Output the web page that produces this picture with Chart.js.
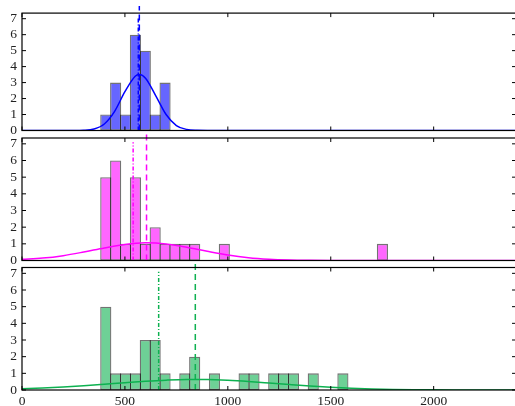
<!DOCTYPE html>
<html>
  <head>
    <title>Histograms</title>
    <meta charset="utf-8" />
    <style>
      html, body { margin: 0; padding: 0; background: #fff; overflow: hidden; }
      #wrap { position: relative; width: 515px; height: 406px; overflow: hidden; }
      #wrap canvas { position: absolute; left: 0; top: 0; }
    </style>
  </head>
  <body>
    <div id="wrap">
      <canvas id="c1" width="516" height="406"></canvas>
      <canvas id="c2" width="516" height="406"></canvas>
      <canvas id="c3" width="516" height="406"></canvas>
    </div>

    <script src="https://cdn.jsdelivr.net/npm/chart.js"></script>
    <script>
      // histogram bins shared by all three panels
      var binStart = 383;
      var binWidth = 48;

      var blueCounts = [1, 3, 1, 6, 5, 1, 3];
      var magentaCounts = [5, 6, 1, 5, 1, 2, 1, 1, 1, 1, 0, 0, 1, 0, 0, 0, 0, 0, 0, 0, 0, 0, 0, 0, 0, 0, 0, 0, 1];
      var greenCounts = [5, 1, 1, 1, 3, 3, 1, 0, 1, 2, 0, 1, 0, 0, 1, 1, 0, 1, 1, 1, 0, 1, 0, 0, 1];

      // fitted curves
      var blueCurveX = [0, 250, 300, 350, 400, 450, 500, 550, 570, 600, 650, 700, 750, 800, 850, 900, 2400];
      var blueCurveY = [0, 0.003, 0.015, 0.095, 0.41, 1.2, 2.43, 3.4, 3.5, 3.27, 2.17, 1.0, 0.31, 0.07, 0.01, 0, 0];
      var magentaCurveX = [0, 100, 200, 300, 400, 500, 600, 700, 800, 900, 1000, 1100, 1200, 1300, 1400, 1500, 1600, 2400];
      var magentaCurveY = [0.07, 0.143, 0.29, 0.51, 0.755, 0.966, 1.06, 0.996, 0.8, 0.555, 0.33, 0.167, 0.073, 0.027, 0.009, 0.002, 0, 0];
      var greenCurveX = [0, 100, 200, 300, 400, 500, 600, 700, 800, 900, 1000, 1100, 1200, 1300, 1400, 1500, 1600, 1700, 1800, 1900, 2000, 2100, 2200, 2400];
      var greenCurveY = [0.07, 0.114, 0.175, 0.253, 0.344, 0.439, 0.526, 0.592, 0.627, 0.623, 0.581, 0.51, 0.42, 0.325, 0.236, 0.162, 0.104, 0.062, 0.035, 0.019, 0.009, 0.004, 0.002, 0];

      // vertical markers: dashed and dash-dot
      var blueDashed = 570, blueDashDot = 565;
      var magentaDashed = 605, magentaDashDot = 540;
      var greenDashed = 842, greenDashDot = 664;

      var xTicks = [0, 500, 1000, 1500, 2000];
      var yTicks = [0, 1, 2, 3, 4, 5, 6, 7];
      var xMax = 2400;
      var yMax = 7.35;

      var FONT = { family: "'Liberation Serif', 'DejaVu Serif', serif", size: 13.5 };

      var framePlugin = {
        id: "frame",
        afterDatasetsDraw: function (chart) {
          var a = chart.chartArea;
          var ctx = chart.ctx;
          var xs = chart.scales.x;
          var ys = chart.scales.y;
          ctx.save();
          ctx.strokeStyle = "#000";
          ctx.lineWidth = 1;
          ctx.beginPath();
          yTicks.forEach(function (v) {
            var p = ys.getPixelForValue(v);
            ctx.moveTo(a.left, p);
            ctx.lineTo(a.left + 4, p);
            ctx.moveTo(a.right - 4, p);
            ctx.lineTo(a.right, p);
          });
          xTicks.forEach(function (v) {
            var p = xs.getPixelForValue(v);
            ctx.moveTo(p, a.top);
            ctx.lineTo(p, a.top + 4);
            ctx.moveTo(p, a.bottom);
            ctx.lineTo(p, a.bottom - 4);
          });
          ctx.stroke();
          ctx.lineWidth = 1.2;
          ctx.strokeRect(a.left, a.top, a.right - a.left, a.bottom - a.top);
          ctx.restore();
        },
      };

      function toBars(counts) {
        return counts.map(function (c, i) {
          return { x: binStart + (i + 0.5) * binWidth, y: c > 0 ? c : null };
        });
      }

      function toPoints(xs, ys) {
        return xs.map(function (x, i) {
          return { x: x, y: ys[i] };
        });
      }

      function makePanel(id, counts, curveX, curveY, dashed, dashDot, color, fill, padTop, padBottom, showX) {
        return new Chart(document.getElementById(id), {
          type: "bar",
          data: {
            datasets: [
              {
                type: "line",
                data: toPoints(curveX, curveY),
                borderColor: color,
                borderWidth: 1.5,
                pointRadius: 0,
                cubicInterpolationMode: "monotone",
                order: 0,
              },
              {
                type: "line",
                data: [{ x: dashed, y: 0 }, { x: dashed, y: 7.8 }],
                borderColor: color,
                borderWidth: 1.5,
                borderDash: [6, 4],
                pointRadius: 0,
                clip: false,
                order: 1,
              },
              {
                type: "line",
                data: [{ x: dashDot, y: 0 }, { x: dashDot, y: 7.1 }],
                borderColor: color,
                borderWidth: 1.5,
                borderDash: [4, 2, 1, 2],
                pointRadius: 0,
                clip: false,
                order: 1,
              },
              {
                data: toBars(counts),
                backgroundColor: fill,
                borderColor: "rgba(0,0,0,0.55)",
                borderWidth: 1.3,
                borderSkipped: false,
                barPercentage: 1.13,
                categoryPercentage: 1,
                order: 2,
              },
            ],
          },
          options: {
            responsive: false,
            animation: false,
            events: [],
            layout: { padding: { top: padTop, bottom: padBottom, left: 0, right: 0 } },
            plugins: { legend: { display: false }, tooltip: { enabled: false } },
            scales: {
              x: {
                type: "linear",
                min: 0,
                max: xMax,
                offset: false,
                grid: { display: false, drawTicks: false },
                border: { display: false },
                ticks: {
                  display: showX,
                  padding: 3,
                  color: "#222",
                  font: FONT,
                  maxRotation: 0,
                  autoSkip: false,
                  callback: function (v) { return String(v); },
                },
                afterBuildTicks: function (s) {
                  s.ticks = xTicks.map(function (v) { return { value: v }; });
                },
                afterFit: function (s) {
                  s.height = showX ? 16 : 0;
                },
              },
              y: {
                min: 0,
                max: yMax,
                grid: { display: false, drawTicks: false },
                border: { display: false },
                ticks: {
                  padding: 5,
                  color: "#222",
                  font: FONT,
                  autoSkip: false,
                  callback: function (v) { return String(v); },
                },
                afterBuildTicks: function (s) {
                  s.ticks = yTicks.map(function (v) { return { value: v }; });
                },
                afterFit: function (s) {
                  s.width = 22;
                },
              },
            },
          },
          plugins: [framePlugin],
        });
      }

      makePanel("c1", blueCounts, blueCurveX, blueCurveY, blueDashed, blueDashDot,
        "#0000ff", "rgba(0,0,255,0.6)", 8, 275.5, false);
      makePanel("c2", magentaCounts, magentaCurveX, magentaCurveY, magentaDashed, magentaDashDot,
        "#ff00ff", "rgba(255,0,255,0.6)", 138, 145.5, false);
      makePanel("c3", greenCounts, greenCurveX, greenCurveY, greenDashed, greenDashDot,
        "#0db150", "rgba(13,177,80,0.6)", 267.5, 0, true);
    </script>
  </body>
</html>
